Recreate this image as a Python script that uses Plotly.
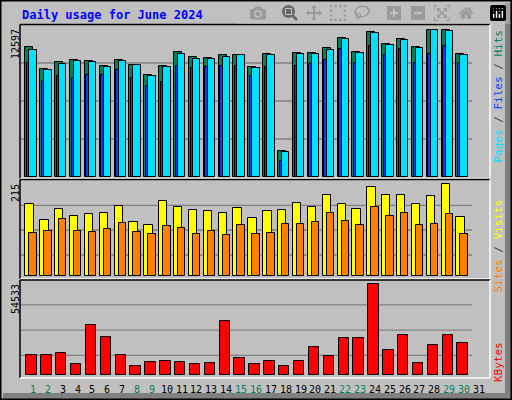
import plotly.graph_objects as go

days = list(range(1, 31))
day_labels = [str(d) for d in range(1, 32)]
weekend_days = [1, 2, 8, 9, 15, 16, 22, 23, 29, 30]

hits = [10777, 8953, 9534, 9699, 9616, 9202, 9699, 9285, 8456, 9202,
        10363, 9948, 9865, 10114, 10114, 9119, 10197, 2155, 10280, 10280,
        10694, 11523, 10363, 12021, 11026, 11440, 10777, 12186, 12186, 10197]
files = [10530, 8870, 9368, 9616, 9534, 9119, 9616, 9285, 8373, 9119,
         10197, 9782, 9782, 9948, 10114, 9036, 10114, 2072, 10197, 10197,
         10528, 11440, 10280, 11938, 10943, 11357, 10694, 12186, 12103, 10114]
pages = [9451, 7958, 8373, 8207, 8456, 8456, 8870, 8207, 7544, 7876,
         9202, 9036, 9119, 9202, 9202, 8373, 9119, 1326, 9202, 9368,
         9699, 10611, 9451, 10860, 10114, 10611, 9451, 10197, 10860, 9451]
visits = [161, 125, 150, 134, 138, 141, 156, 121, 114, 167,
          154, 147, 145, 141, 152, 129, 145, 147, 163, 154,
          181, 161, 150, 199, 181, 181, 161, 179, 205, 132]
sites = [96, 100, 127, 100, 98, 105, 118, 98, 94, 112,
         107, 94, 100, 92, 114, 94, 96, 116, 116, 121,
         141, 123, 114, 154, 134, 141, 114, 116, 138, 94]
kbytes = [11562, 11562, 12718, 6359, 28905, 21968, 11562, 5203, 7515, 8093,
          7515, 6359, 6937, 31217, 9828, 6359, 8093, 5203, 8093, 16187,
          10984, 21390, 21390, 52800, 14453, 23124, 6937, 17343, 23124, 18499]

hits_max, visit_max, kb_max = 12597, 215, 54533

GREEN, BLUE, CYAN = '#00805c', '#0040ff', '#00e0ff'
YELLOW, ORANGE, RED = '#ffff00', '#ff8000', '#ff0000'
BG = '#c0c0c0'
MONO = 'DejaVu Sans Mono'

px = 14.867          # pixels per day
x0 = 1 - 31 / px
x1 = x0 + 512 / px


def xp(p):
    return 1 + (p - 31) / px


def bar(y, color, offset, width, axis):
    return go.Bar(x=days, y=y, marker_color=color, offset=offset, width=width,
                  marker_line=dict(color='black', width=1), yaxis=axis)


fig = go.Figure()
fig.add_trace(bar(hits, GREEN, -0.383, 0.54, 'y'))
fig.add_trace(bar(pages, BLUE, -0.27, 0.54, 'y'))
fig.add_trace(bar(files, CYAN, -0.114, 0.5, 'y'))
fig.add_trace(bar(visits, YELLOW, -0.383, 0.56, 'y2'))
fig.add_trace(bar(sites, ORANGE, -0.114, 0.5, 'y2'))
fig.add_trace(bar(kbytes, RED, -0.316, 0.7, 'y3'))

shapes = []
# grid lines
grid_vals = {'y': [hits_max / 4, hits_max / 2, hits_max * 3 / 4],
             'y2': [47, 103, 158],
             'y3': [11562, 26137, 40782]}
for yref, vals in grid_vals.items():
    for v in vals:
        shapes.append(dict(type='line', xref='x', yref=yref, x0=xp(20), x1=xp(472),
                           y0=v, y1=v, line=dict(color='#808080', width=1.3), layer='below'))


# panel frames (black top/left, white bottom/right)
def frame(top, bottom):
    t, b = 1 - top / 400, 1 - bottom / 400
    l, r = 20 / 512, 490 / 512
    return [dict(type='line', xref='paper', yref='paper', x0=l, x1=r, y0=t, y1=t, line=dict(color='black', width=1.5)),
            dict(type='line', xref='paper', yref='paper', x0=l, x1=l, y0=t, y1=b, line=dict(color='black', width=1.5)),
            dict(type='line', xref='paper', yref='paper', x0=l, x1=r, y0=b, y1=b, line=dict(color='white', width=1.5)),
            dict(type='line', xref='paper', yref='paper', x0=r, x1=r, y0=t, y1=b, line=dict(color='white', width=1.5))]


shapes += frame(24.5, 178.5) + frame(179.5, 279) + frame(280, 378)
# outer border and bevel
shapes.append(dict(type='rect', xref='paper', yref='paper', x0=505 / 512, x1=1, y0=0, y1=1 - 3 / 400,
                   fillcolor='#808080', line_width=0, layer='below'))
shapes.append(dict(type='rect', xref='paper', yref='paper', x0=3 / 512, x1=1, y0=0, y1=7 / 400,
                   fillcolor='#808080', line_width=0, layer='below'))
shapes.append(dict(type='rect', xref='paper', yref='paper', x0=0.001, x1=0.999, y0=0.001, y1=0.999,
                   line=dict(color='black', width=2)))

ann = [dict(text='<b>Daily usage for June 2024</b>', x=20 / 512, y=1 - 15 / 400, xref='paper', yref='paper',
            xanchor='left', yanchor='middle', showarrow=False, font=dict(family=MONO, size=12, color='#0000ff'))]
for label, ypix in (('12597', 27), ('215', 182), ('54533', 282)):
    ann.append(dict(text=label, x=15 / 512, y=1 - ypix / 400, xref='paper', yref='paper', textangle=-90,
                    xanchor='center', yanchor='top', showarrow=False, font=dict(family=MONO, size=10, color='black')))

sep = '<span style="color:#404040"> / </span>'
right_labels = [
    (f'<span style="color:{CYAN}">Pages</span>{sep}<span style="color:{BLUE}">Files</span>{sep}<span style="color:{GREEN}">Hits</span>', 28),
    (f'<span style="color:{ORANGE}">Sites</span>{sep}<span style="color:{YELLOW}">Visits</span>', 198),
    (f'<span style="color:{RED}">KBytes</span>', 340),
]
for text, ypix in right_labels:
    ann.append(dict(text=text, x=498 / 512, y=1 - ypix / 400, xref='paper', yref='paper', textangle=-90,
                    xanchor='center', yanchor='top', showarrow=False, font=dict(family=MONO, size=11)))

for i, lab in enumerate(day_labels):
    d = i + 1
    ann.append(dict(text=lab, x=d + 0.13, y=1 - 389 / 400, xref='x', yref='paper', showarrow=False,
                    xanchor='center', yanchor='middle',
                    font=dict(family=MONO, size=10, color=GREEN if d in weekend_days else 'black')))

fig.update_layout(
    width=512, height=400, margin=dict(l=0, r=0, t=0, b=0),
    paper_bgcolor=BG, plot_bgcolor=BG, showlegend=False, barmode='overlay', bargap=0,
    xaxis=dict(range=[x0, x1], visible=False, anchor='y3'),
    yaxis=dict(range=[0, hits_max], domain=[1 - 177 / 400, 1 - 25 / 400], visible=False, anchor='x'),
    yaxis2=dict(range=[0, visit_max], domain=[1 - 276 / 400, 1 - 180 / 400], visible=False, anchor='x'),
    yaxis3=dict(range=[0, kb_max], domain=[1 - 375.3 / 400, 1 - 281 / 400], visible=False, anchor='x'),
    shapes=shapes, annotations=ann,
)

fig.write_html("out.html", post_script="document.body.style.margin='0';")
